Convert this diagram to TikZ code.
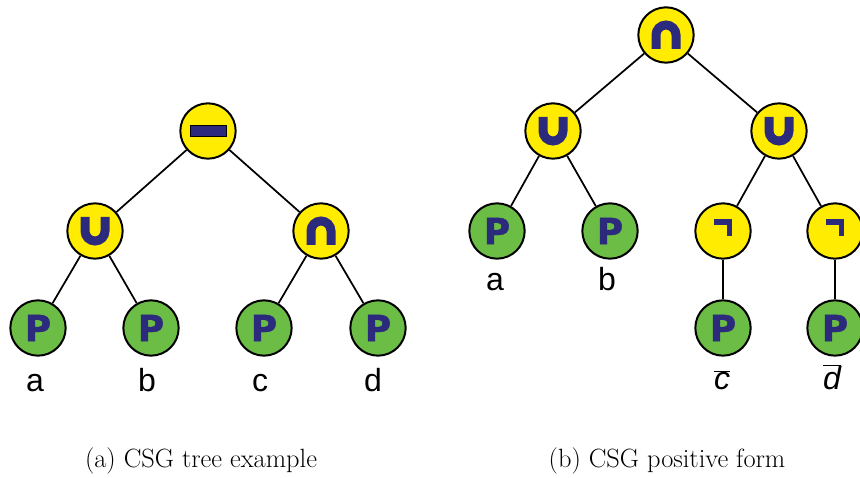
\documentclass[tikz,border=0pt]{standalone}
\usepackage{fontspec}
\usepackage{tikz}
\newfontfamily\leaffont{Liberation Sans}
\newfontfamily\primfont{DejaVu Sans}[BoldFeatures={FakeBold=1.2}]
\definecolor{opyellow}{RGB}{255,236,0}
\definecolor{primgreen}{RGB}{108,189,69}
\definecolor{glyphblue}{RGB}{44,42,125}

\tikzset{
  opnode/.style={circle, draw=black, line width=1.5pt, fill=opyellow, minimum size=41.5pt, inner sep=0pt},
  primnode/.style={circle, draw=black, line width=1.5pt, fill=primgreen, minimum size=41.5pt, inner sep=0pt,
    font=\primfont\bfseries\fontsize{27}{27}\selectfont, text=glyphblue},
  branch/.style={line width=1.3pt},
  glyph/.style={glyphblue, line width=6.75pt},
  leaflabel/.style={font=\leaffont\fontsize{24}{24}\selectfont, anchor=base},
  subcaption/.style={font=\fontsize{19.8}{20}\selectfont, anchor=base}
}

% operator glyphs, drawn at the centre of a node
\newcommand{\csgunion}[1]{\draw[glyph] ([shift={(-10,14)}]#1.center) -- ([shift={(-10,0)}]#1.center)
  arc[start angle=180, end angle=360, radius=10] -- ([shift={(10,14)}]#1.center);}
\newcommand{\csginter}[1]{\draw[glyph] ([shift={(-10,-14)}]#1.center) -- ([shift={(-10,0)}]#1.center)
  arc[start angle=180, end angle=0, radius=10] -- ([shift={(10,-14)}]#1.center);}
\newcommand{\csgminus}[1]{\filldraw[fill=glyphblue, draw=black, line width=0.5pt]
  ([shift={(-18,-5.5)}]#1.center) rectangle ([shift={(18,5.5)}]#1.center);}
\newcommand{\csgnot}[1]{\draw[glyphblue, line width=4.1pt] ([shift={(-9,9)}]#1.center) -- ([shift={(6.5,9)}]#1.center)
  -- ([shift={(6.5,-5)}]#1.center);}
% complemented leaf
\newcommand{\negated}[1]{$\overline{\mbox{\leaffont\itshape #1}}$}

\begin{document}
\begin{tikzpicture}[x=0.75pt, y=0.75pt]
  \useasboundingbox (0,0) rectangle (860,478);

  % (a) the tree
  \node[opnode] (minus) at (208,347) {};
  \node[opnode] (unA) at (95,247) {};
  \node[opnode] (inA) at (321,247) {};
  \node[primnode] (pa) at (38,150) {P};
  \node[primnode] (pb) at (151,150) {P};
  \node[primnode] (pc) at (264,150) {P};
  \node[primnode] (pd) at (378,150) {P};

  \draw[branch] (minus) -- (unA);
  \draw[branch] (minus) -- (inA);
  \draw[branch] (unA) -- (pa);
  \draw[branch] (unA) -- (pb);
  \draw[branch] (inA) -- (pc);
  \draw[branch] (inA) -- (pd);

  \csgminus{minus}
  \csgunion{unA}
  \csginter{inA}

  \node[leaflabel] (la) at (35,86) {a};
  \node[leaflabel] (lb) at (147,86) {b};
  \node[leaflabel] (lc) at (260,86) {c};
  \node[leaflabel] (ld) at (373,86) {d};

  % (b) positive form
  \node[opnode] (inB) at (666,443) {};
  \node[opnode] (unB) at (553,347) {};
  \node[opnode] (unC) at (779,347) {};
  \node[primnode] (qa) at (497,247) {P};
  \node[primnode] (qb) at (610,247) {P};
  \node[opnode] (notc) at (723,247) {};
  \node[opnode] (notd) at (835,247) {};
  \node[primnode] (qc) at (723,150) {P};
  \node[primnode] (qd) at (835,150) {P};

  \draw[branch] (inB) -- (unB);
  \draw[branch] (inB) -- (unC);
  \draw[branch] (unB) -- (qa);
  \draw[branch] (unB) -- (qb);
  \draw[branch] (unC) -- (notc);
  \draw[branch] (unC) -- (notd);
  \draw[branch] (notc) -- (qc);
  \draw[branch] (notd) -- (qd);

  \csginter{inB}
  \csgunion{unB}
  \csgunion{unC}
  \csgnot{notc}
  \csgnot{notd}

  \node[leaflabel] (ma) at (495,187) {a};
  \node[leaflabel] (mb) at (607,187) {b};
  \node[leaflabel] (mc) at (722,88) {\negated{c}};
  \node[leaflabel] (md) at (832,88) {\negated{d}};

  \node[subcaption] (capa) at (201,10) {(a) CSG tree example};
  \node[subcaption] (capb) at (667,10) {(b) CSG positive form};
\end{tikzpicture}
\end{document}
